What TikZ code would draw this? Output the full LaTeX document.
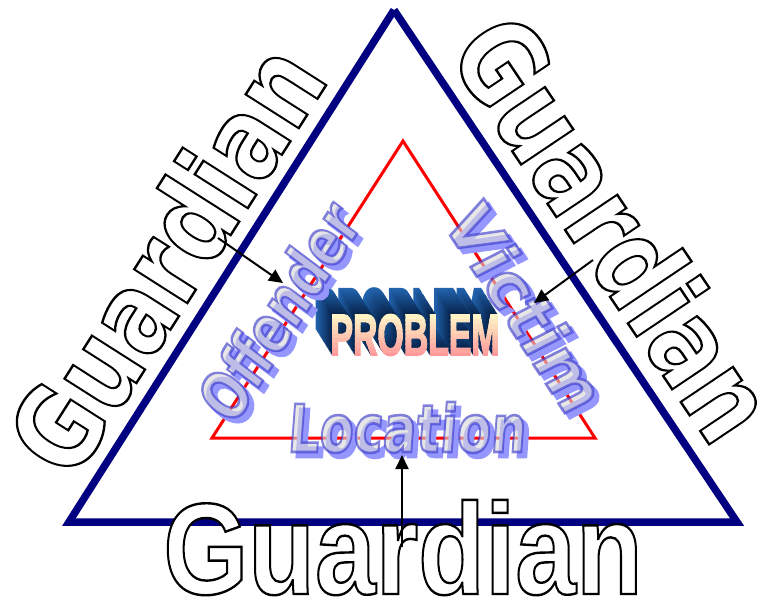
\documentclass[tikz,border=0pt]{standalone}
\usepackage{fontspec}
\usetikzlibrary{arrows.meta}
\newfontfamily\dvsans{DejaVu Sans}
\newfontfamily\libsans{Liberation Sans}
\definecolor{navyT}{RGB}{0,0,128}
\definecolor{redT}{RGB}{255,0,0}
\definecolor{wordfill}{RGB}{215,215,215}
\definecolor{wordshadow}{RGB}{150,150,255}
\newcommand\strokedtext[3]{\special{pdf:literal 2 Tr #1 w #2 RG}#3\special{pdf:literal 0 Tr}}
\tikzset{
  guard/.style={inner sep=0pt, anchor=base, text=white, font=\dvsans\bfseries\fontsize{115}{115}\selectfont},
  guardbottom/.style={inner sep=0pt, anchor=base, text=white, font=\libsans\bfseries\fontsize{130}{130}\selectfont},
  wordbase/.style={inner sep=0pt, anchor=base, font=\dvsans\bfseries\fontsize{66}{66}\selectfont},
  wordshadowstyle/.style={wordbase, text=wordshadow},
  wordmain/.style={wordbase, text=wordfill, text opacity=0.6},
  probstyle/.style={inner sep=0pt, anchor=base, font=\libsans\bfseries\fontsize{58}{58}\selectfont, xscale=0.583},
  arrowline/.style={line width=2pt, -{Triangle[length=14pt,width=13pt]}},
  outerline/.style={navyT, line width=7.5pt, line join=miter},
  innerline/.style={redT, line width=3pt, line join=miter},
}
\begin{document}
\begin{tikzpicture}[x=1pt,y=-1pt]
\fill[white] (0,0) rectangle (762,600);
\useasboundingbox (0,0) rectangle (762,600);
% outer triangle
\coordinate (oA) at (394,10);
\coordinate (oL) at (69,522);
\coordinate (oR) at (737,522);
\draw[outerline] (oA) -- (oL) -- (oR) -- (oA);
% inner triangle
\coordinate (iA) at (403,141);
\coordinate (iL) at (212,438);
\coordinate (iR) at (595,438);
\draw[innerline] (iA) -- (iL) -- (iR) -- cycle;
% Guardians
\node[guard, rotate=57.5, xscale=0.81] (gleft) at (201.3,281.1) {\strokedtext{2.4}{0 0 0}{Guardian}};
\node[guard, rotate=-56.1, xscale=0.81] (gright) at (579.6,251.5) {\strokedtext{2.4}{0 0 0}{Guardian}};
\node[guardbottom, xscale=0.84] (gbottom) at (403,594) {\strokedtext{2.4}{0 0 0}{Guardian}};
% PROBLEM extrusion (one node, stacked copies)
\node[probstyle] (pext) at (415,355) {%
  \foreach \k in {22,...,1}{%
    \pgfmathsetmacro\cc{(\k-1)/21}%
    \pgfmathsetmacro\exR{0.031+0.106*\cc}%
    \pgfmathsetmacro\exG{0.149+0.243*\cc}%
    \pgfmathsetmacro\exB{0.314+0.372*\cc}%
    \definecolor{excol}{rgb}{\exR,\exG,\exB}%
    \pgfmathsetmacro\exdx{-0.75*\k/0.583}%
    \pgfmathsetmacro\exdy{1.2*\k}%
    \rlap{\hspace*{\exdx pt}\raisebox{\exdy pt}{\color{excol}\strokedtext{1.8}{\exR\space\exG\space\exB}{PROBLEM}}}%
  }%
  \phantom{PROBLEM}%
};
% PROBLEM front gradient
\foreach \i in {0,...,9}{
  \pgfmathsetmacro\tt{\i/9}
  \pgfmathsetmacro\pgG{1-0.4*\tt}
  \pgfmathsetmacro\pgB{0.8-0.2*\tt}
  \definecolor{frcol}{rgb}{1,\pgG,\pgB}
  \pgfmathsetmacro\ya{310+\i*4.8}
  \pgfmathsetmacro\yb{310+(\i+1)*4.8+0.4}
  \begin{scope}
    \clip (300,\ya) rectangle (530,\yb);
    \node[probstyle, text=frcol] (pfront\i) at (415,355) {\strokedtext{1.8}{1 \pgG\space\pgB}{PROBLEM}};
  \end{scope}
}
% WordArt shadows
\node[wordshadowstyle, rotate=57.4, xscale=0.74, xslant=0.1] (offsh) at (303.3,330.4) {\strokedtext{2.6}{0.588 0.588 1}{Offender}};
\node[wordshadowstyle, rotate=-57.2, xscale=1.0, xslant=0.1] (vicsh) at (509,323.9) {\strokedtext{2.6}{0.588 0.588 1}{Victim}};
\node[wordshadowstyle, xscale=0.75, xslant=0.1] (locsh) at (411,457) {\strokedtext{2.6}{0.588 0.588 1}{Location}};
% WordArt main
\node[wordmain, rotate=57.4, xscale=0.74, xslant=0.1] (off) at (298.3,325.4) {\strokedtext{2.6}{0.2 0.2 0.8}{Offender}};
\node[wordmain, rotate=-57.2, xscale=1.0, xslant=0.1] (vic) at (504,318.9) {\strokedtext{2.6}{0.2 0.2 0.8}{Victim}};
\node[wordmain, xscale=0.75, xslant=0.1] (loc) at (406,452) {\strokedtext{2.6}{0.2 0.2 0.8}{Location}};
% arrows
\coordinate (a1s) at (218,238);
\coordinate (a1e) at (283,283);
\coordinate (a2s) at (593,260);
\coordinate (a2e) at (534,303);
\coordinate (a3s) at (402,547);
\coordinate (a3e) at (402,455);
\draw[arrowline] (a1s) -- (a1e);
\draw[arrowline] (a2s) -- (a2e);
\draw[arrowline] (a3s) -- (a3e);
\end{tikzpicture}
\end{document}
